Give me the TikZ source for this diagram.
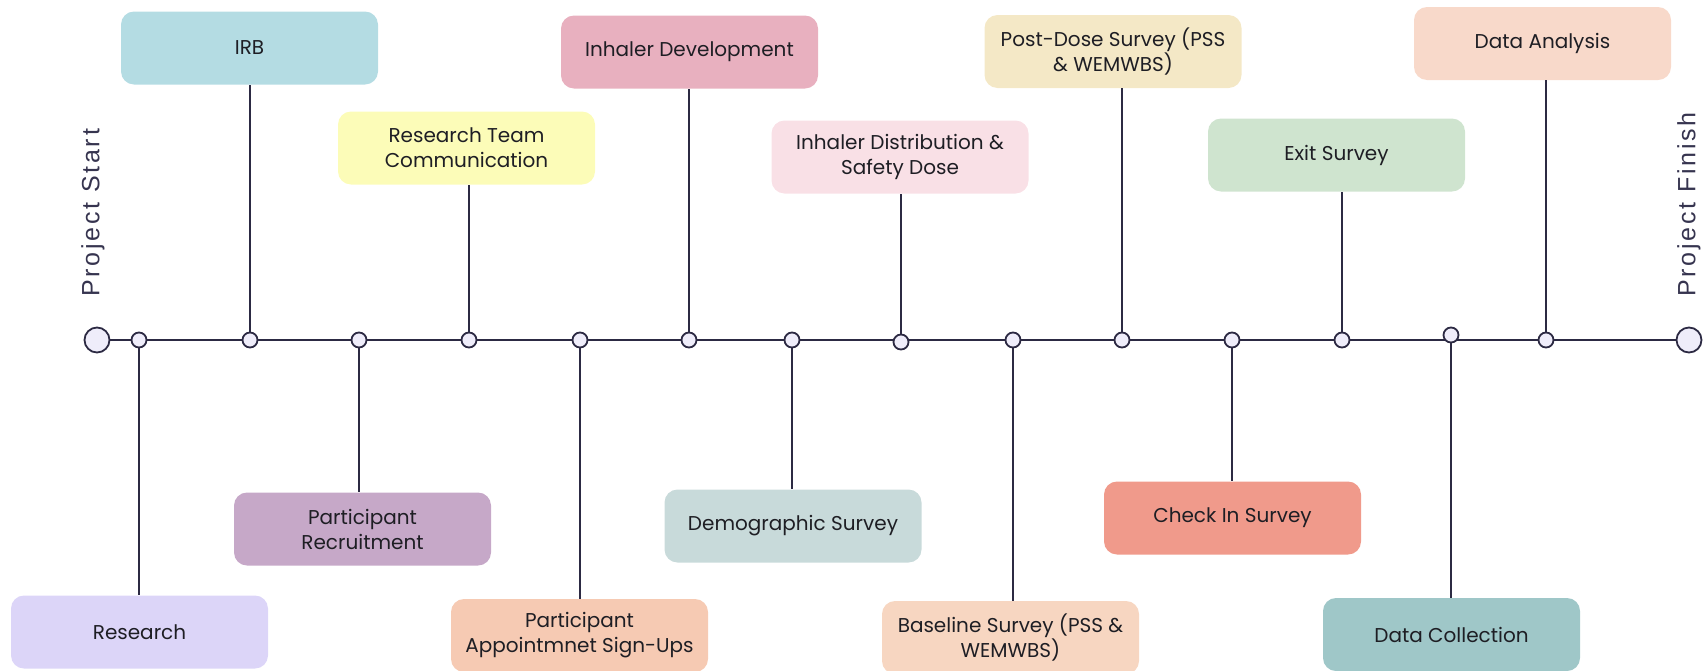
\documentclass[tikz,border=0pt]{standalone}
\usepackage{fontspec}
\setmainfont{Poppins}
\newfontfamily\sidefont[LetterSpace=11]{Liberation Sans}
\usetikzlibrary{backgrounds}
\definecolor{linkc}{HTML}{2C2A43}
\definecolor{dotfill}{HTML}{EFEDFA}
\definecolor{txtc}{HTML}{1E1E24}
\definecolor{sidec}{HTML}{36344F}
\definecolor{cIRB}{HTML}{B4DCE3}
\definecolor{cRTC}{HTML}{FCFCB8}
\definecolor{cDev}{HTML}{E8B0BF}
\definecolor{cDist}{HTML}{F9E0E6}
\definecolor{cPost}{HTML}{F4E8C6}
\definecolor{cExit}{HTML}{CFE4CF}
\definecolor{cAna}{HTML}{F8D9CA}
\definecolor{cRes}{HTML}{DCD5F8}
\definecolor{cRec}{HTML}{C6A8C8}
\definecolor{cApp}{HTML}{F6CAB3}
\definecolor{cDem}{HTML}{C8DADA}
\definecolor{cBase}{HTML}{F7D6C1}
\definecolor{cChk}{HTML}{F09A8B}
\definecolor{cColl}{HTML}{9FC7C8}
\begin{document}
\begin{tikzpicture}[x=1pt,y=-1pt,
  box/.style={rounded corners=13pt, minimum width=257pt, minimum height=73pt,
    inner sep=0pt, align=center, text=txtc,
    font=\fontsize{20}{25}\selectfont},
  dot/.style={circle, draw=linkc, line width=1.8pt, fill=dotfill,
    minimum size=15pt, inner sep=0pt},
  bigdot/.style={circle, draw=linkc, line width=1.8pt, fill=dotfill,
    minimum size=25pt, inner sep=0pt},
  link/.style={draw=linkc, line width=1.8pt},
  side/.style={rotate=90, anchor=west, inner sep=0pt, text=sidec,
    font=\sidefont\fontsize{25}{30}\selectfont}]
\useasboundingbox (0,0) rectangle (1706,670);
% side labels
\node[side] (ps) at (93,297) {Project Start};
\node[side] (pf) at (1689,297) {Project Finish};
% end points
\node[bigdot] (start) at (97,340) {};
\node[bigdot] (finish) at (1689,340) {};
% milestones
\node[dot] (d1) at (139,340) {};
\node[dot] (d2) at (250,340) {};
\node[dot] (d3) at (359,340) {};
\node[dot] (d4) at (469,340) {};
\node[dot] (d5) at (580,340) {};
\node[dot] (d6) at (689,340) {};
\node[dot] (d7) at (792,340) {};
\node[dot] (d8) at (901,342) {};
\node[dot] (d9) at (1013,340) {};
\node[dot] (d10) at (1122,340) {};
\node[dot] (d11) at (1232,340) {};
\node[dot] (d12) at (1342,340) {};
\node[dot] (d13) at (1451,335) {};
\node[dot] (d14) at (1546,340) {};
% top boxes
\node[box, fill=cIRB] (irb) at (249.5,48) {IRB};
\node[box, fill=cRTC] (rtc) at (466.5,148) {Research Team\\Communication};
\node[box, fill=cDev] (dev) at (689.5,52) {Inhaler Development};
\node[box, fill=cDist] (dist) at (900,157) {Inhaler Distribution \&\\Safety Dose};
\node[box, fill=cPost] (post) at (1113,51.5) {Post-Dose Survey (PSS\\\& WEMWBS)};
\node[box, fill=cExit] (exit) at (1336.5,155) {Exit Survey};
\node[box, fill=cAna] (ana) at (1542.5,43.5) {Data Analysis};
% bottom boxes
\node[box, fill=cRes] (res) at (139.5,632) {Research};
\node[box, fill=cRec] (rec) at (362.5,529) {Participant\\Recruitment};
\node[box, fill=cApp] (app) at (579.5,635.5) {Participant\\Appointmnet Sign-Ups};
\node[box, fill=cDem] (dem) at (793,526) {Demographic Survey};
\node[box, fill=cBase] (base) at (1010.5,637.5) {Baseline Survey (PSS \&\\WEMWBS)};
\node[box, fill=cChk] (chk) at (1232.5,518) {Check In Survey};
\node[box, fill=cColl] (coll) at (1451.5,634.5) {Data Collection};
% connectors
\begin{scope}[on background layer]
\draw[link] (start) -- (finish);
\end{scope}
\draw[link] (d1) -- (d1 |- res.north);
\draw[link] (d2) -- (d2 |- irb.south);
\draw[link] (d3) -- (d3 |- rec.north);
\draw[link] (d4) -- (d4 |- rtc.south);
\draw[link] (d5) -- (d5 |- app.north);
\draw[link] (d6) -- (d6 |- dev.south);
\draw[link] (d7) -- (d7 |- dem.north);
\draw[link] (d8) -- (d8 |- dist.south);
\draw[link] (d9) -- (d9 |- base.north);
\draw[link] (d10) -- (d10 |- post.south);
\draw[link] (d11) -- (d11 |- chk.north);
\draw[link] (d12) -- (d12 |- exit.south);
\draw[link] (d13) -- (d13 |- coll.north);
\draw[link] (d14) -- (d14 |- ana.south);
\end{tikzpicture}
\end{document}
